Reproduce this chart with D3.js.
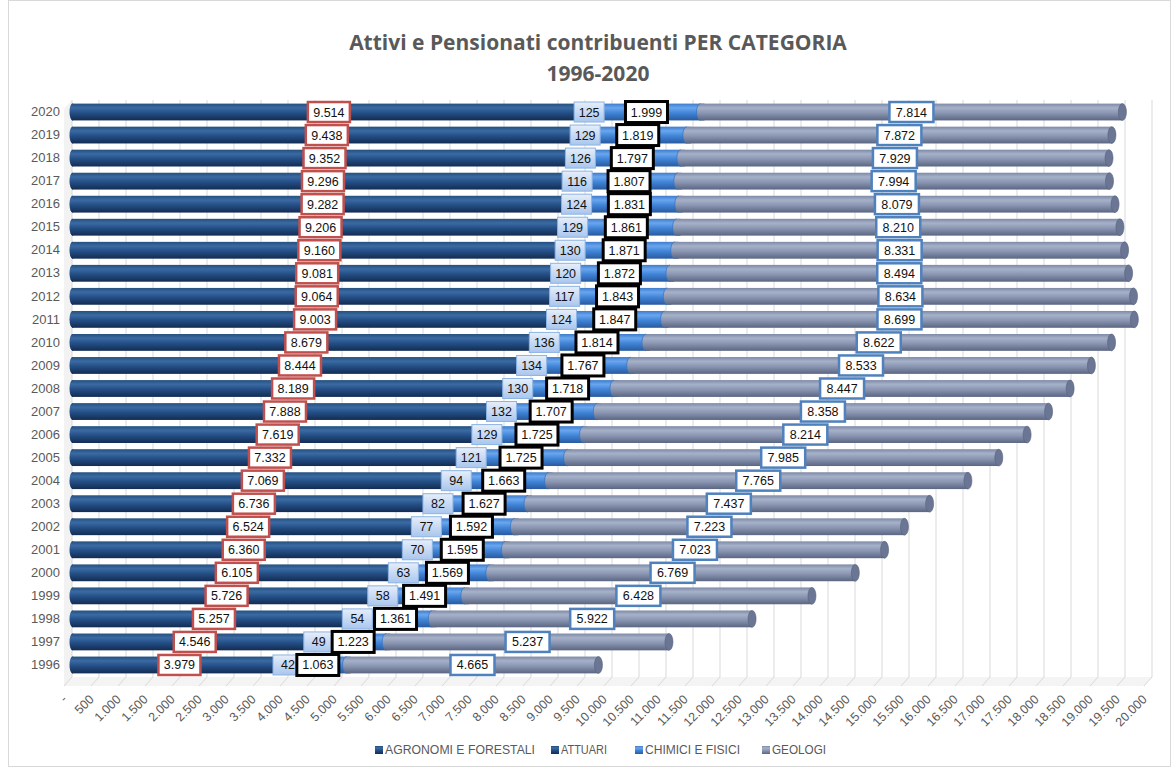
<!DOCTYPE html>
<html><head><meta charset="utf-8">
<script src="https://cdn.jsdelivr.net/npm/d3@7"></script>
<style>
html,body{margin:0;padding:0;background:#fff;}
svg{display:block;font-family:"Liberation Sans",Arial,sans-serif;}
</style></head>
<body>
<svg id="chart" width="1176" height="769"></svg>
<script>
const years = [2020,2019,2018,2017,2016,2015,2014,2013,2012,2011,2010,2009,2008,2007,2006,2005,2004,2003,2002,2001,2000,1999,1998,1997,1996];
const agronomi = [9514,9438,9352,9296,9282,9206,9160,9081,9064,9003,8679,8444,8189,7888,7619,7332,7069,6736,6524,6360,6105,5726,5257,4546,3979];
const attuari  = [125,129,126,116,124,129,130,120,117,124,136,134,130,132,129,121,94,82,77,70,63,58,54,49,42];
const chimici  = [1999,1819,1797,1807,1831,1861,1871,1872,1843,1847,1814,1767,1718,1707,1725,1725,1663,1627,1592,1595,1569,1491,1361,1223,1063];
const geologi  = [7814,7872,7929,7994,8079,8210,8331,8494,8634,8699,8622,8533,8447,8358,8214,7985,7765,7437,7223,7023,6769,6428,5922,5237,4665];
const seriesNames = ["AGRONOMI E FORESTALI","ATTUARI","CHIMICI E  FISICI","GEOLOGI"];
const xTicks = d3.range(0, 20001, 500);
const titleLines = ["Attivi e Pensionati contribuenti PER CATEGORIA","1996-2020"];

const seriesKeys = ["agr","att","chi","geo"];
const rows = years.map((y,i)=>({year:y, agr:agronomi[i], att:attuari[i], chi:chimici[i], geo:geologi[i]}));
const stacked = d3.stack().keys(seriesKeys)(rows);

const loc = d3.formatLocale({decimal:",", thousands:".", grouping:[3], currency:["€",""]});
const fmt = loc.format(",d");

const svg = d3.select("#chart");
const defs = svg.append("defs");

const grads = {
  agr:[["0%","#24507f"],["25%","#3b6aa3"],["55%","#244f86"],["100%","#132c52"]],
  att:[["0%","#24507f"],["25%","#3b6aa3"],["55%","#244f86"],["100%","#132c52"]],
  chi:[["0%","#3d7ccc"],["25%","#6aa6ee"],["55%","#4185d8"],["100%","#285a9f"]],
  geo:[["0%","#7d89a6"],["25%","#a6b1c9"],["55%","#8b97b3"],["100%","#5b6682"]]
};
const capCol = {agr:"#1b3d6c", att:"#1b3d6c", chi:"#3470bd", geo:"#6a7693"};
Object.entries(grads).forEach(([k,stops])=>{
  const g = defs.append("linearGradient").attr("id","g_"+k).attr("x1",0).attr("x2",0).attr("y1",0).attr("y2",1);
  stops.forEach(s=>g.append("stop").attr("offset",s[0]).attr("stop-color",s[1]));
});
const lb = defs.append("linearGradient").attr("id","g_lbl").attr("x1",0).attr("x2",0).attr("y1",0).attr("y2",1);
lb.append("stop").attr("offset","0%").attr("stop-color","#e6eefa");
lb.append("stop").attr("offset","100%").attr("stop-color","#a9c6ee");

// chart border
svg.append("rect").attr("x",8.5).attr("y",0.5).attr("width",1162).attr("height",766)
  .attr("fill","none").attr("stroke","#d9d9d9");

const x = d3.scaleLinear().domain([0,20000]).range([72,1152]);
const y = d3.scaleBand().domain(years).range([100.5,676.5]).paddingInner(0.27).paddingOuter(0.135);

// title
svg.append("g").selectAll("text").data(titleLines).join("text")
  .attr("x",598).attr("y",(d,i)=>50+i*31)
  .attr("text-anchor","middle").attr("fill","#595959")
  .attr("font-family","'Open Sans','Liberation Sans',sans-serif")
  .attr("font-size",21).attr("font-weight","bold").text(d=>d);

// floor
const fy0 = 677, fdx = 8, fdy = 9;
svg.append("path").attr("d",`M${x(0)},${fy0}L${x(20000)},${fy0}L${x(20000)-fdx},${fy0+fdy}L${x(0)-fdx},${fy0+fdy}Z`)
  .attr("fill","#f4f4f4").attr("stroke","none");
// left wall
svg.append("path").attr("d",`M${x(0)},100L${x(0)},${fy0}L${x(0)-fdx},${fy0+fdy}L${x(0)-fdx},109Z`)
  .attr("fill","#f2f2f2");

// gridlines
svg.append("g").selectAll("line").data(xTicks).join("line")
  .attr("x1",d=>x(d)).attr("x2",d=>x(d)).attr("y1",100).attr("y2",fy0)
  .attr("stroke","#d9d9d9").attr("stroke-width",1);
svg.append("g").selectAll("line").data(xTicks).join("line")
  .attr("x1",d=>x(d)).attr("x2",d=>x(d)-fdx).attr("y1",fy0).attr("y2",fy0+fdy)
  .attr("stroke","#d9d9d9").attr("stroke-width",1);

// x axis
const xAxis = d3.axisBottom(x).tickValues(xTicks).tickSize(0).tickPadding(0)
  .tickFormat(d=> d===0 ? "-" : fmt(d));
const gx = svg.append("g").attr("transform",`translate(-8,${fy0+20})`).call(xAxis);
gx.select(".domain").remove();
gx.selectAll("text").attr("fill","#595959").attr("font-size",12.5)
  .attr("font-family","'Liberation Sans',sans-serif")
  .attr("text-anchor","end").attr("dy","0.35em").attr("transform","rotate(-45)");

// y axis
const yAxis = d3.axisLeft(y).tickSize(0).tickPadding(0);
const gy = svg.append("g").attr("transform","translate(60,0)").call(yAxis);
gy.select(".domain").remove();
gy.selectAll("text").attr("fill","#595959").attr("font-size",13)
  .attr("font-family","'Liberation Sans',sans-serif");

// bars
const bh = y.bandwidth();
const barG = svg.append("g");
stacked.forEach(s=>{
  const k = s.key;
  const g = barG.append("g");
  g.selectAll("rect").data(s).join("rect")
    .attr("x",d=>x(d[0])).attr("y",d=>y(d.data.year))
    .attr("width",d=>Math.max(0,x(d[1])-x(d[0]))).attr("height",bh)
    .attr("fill",`url(#g_${k})`);
});
// left rounded ends
barG.append("g").selectAll("ellipse").data(stacked[0]).join("ellipse")
  .attr("cx",d=>x(d[0])+0.5).attr("cy",d=>y(d.data.year)+bh/2).attr("rx",3).attr("ry",bh/2)
  .attr("fill","url(#g_agr)");
// boundary caps between segments (curved start of next segment)
[2,3].forEach(si=>{
  const k = seriesKeys[si];
  barG.append("g").selectAll("path").data(stacked[si]).join("path")
    .attr("d",d=>{const x0=x(d[0]), yy=y(d.data.year); return `M${x0+4},${yy}L${x0},${yy}A4,${bh/2} 0 0 0 ${x0},${yy+bh}L${x0+4},${yy+bh}Z`;})
    .attr("fill",`url(#g_${k})`);
  barG.append("g").selectAll("path.e").data(stacked[si]).join("path")
    .attr("d",d=>{const x0=x(d[0]), yy=y(d.data.year); return `M${x0},${yy}A4,${bh/2} 0 0 0 ${x0},${yy+bh}`;})
    .attr("fill","none").attr("stroke",capCol[seriesKeys[si-1]]).attr("stroke-width",1).attr("opacity",0.7);
});
// right end caps
barG.append("g").selectAll("ellipse").data(stacked[3]).join("ellipse")
  .attr("cx",d=>x(d[1])).attr("cy",d=>y(d.data.year)+bh/2).attr("rx",4).attr("ry",bh/2)
  .attr("fill",capCol.geo).attr("stroke","#56617c").attr("stroke-width",0.6);

// data labels
const lblStyle = {
  agr:{w:42,h:20,stroke:"#c0504d",sw:2.5,fill:"#fff"},
  att:{w:30,h:20,stroke:"#8db3e2",sw:1,fill:"url(#g_lbl)"},
  chi:{w:42,h:21,stroke:"#000",sw:3,fill:"#fff"},
  geo:{w:44,h:20,stroke:"#4f81bd",sw:2.5,fill:"#fff"}
};
stacked.forEach(s=>{
  const k = s.key, st = lblStyle[k];
  const g = svg.append("g");
  const items = g.selectAll("g").data(s).join("g")
    .attr("transform",d=>`translate(${x((d[0]+d[1])/2)},${y(d.data.year)+bh/2})`);
  items.append("rect").attr("x",-st.w/2).attr("y",-st.h/2).attr("width",st.w).attr("height",st.h)
    .attr("fill",st.fill).attr("stroke",st.stroke).attr("stroke-width",st.sw);
  items.append("text").attr("text-anchor","middle").attr("dy","0.36em")
    .attr("font-size",12.5).attr("fill","#111")
    .attr("font-family","'Liberation Sans',sans-serif")
    .text(d=>fmt(d.data[k]));
});

// legend
const legX = [375,551,635,762];
const leg = svg.append("g").selectAll("g").data(seriesNames).join("g")
  .attr("transform",(d,i)=>`translate(${legX[i]},750)`);
leg.append("rect").attr("x",0).attr("y",-4).attr("width",8).attr("height",8)
  .attr("fill",(d,i)=>`url(#g_${seriesKeys[i]})`);
leg.append("text").attr("x",10).attr("dy","0.35em").attr("font-size",12.5).attr("fill","#595959")
  .attr("font-family","'Liberation Sans',sans-serif")
  .attr("textLength",(d,i)=>[150,46,95,54][i]).attr("lengthAdjust","spacingAndGlyphs")
  .text(d=>d);
</script>
</body></html>
